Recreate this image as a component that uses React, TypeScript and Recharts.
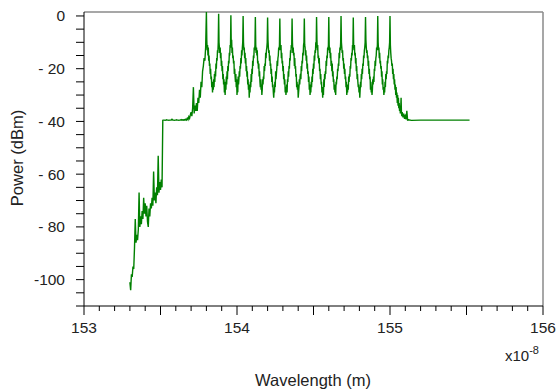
import React from 'react';
import { LineChart, Line, XAxis, YAxis, ReferenceLine } from 'recharts';

// sampled spectrum (wavelength in x1e-8 m, power in dBm)
const lowBand = [
  -101, -104, -98, -99, -95, -96, -88, -77, -86, -83, -85, -81, -67, -80, -76, -79, -74, -77, -69, -75, -71, -76,
  -72, -78, -80, -73, -76, -71, -73, -69, -72, -59, -70, -67, -71, -65, -68, -53, -67, -63, -66, -62, -65,
];

const plateau = [
  -39.6, -39.5, -39.5, -39.6, -39.5, -39.4, -39.5, -39.5, -39.6, -39.5, -39.5, -39.5, -39.2, -39.5, -39.5,
  -39.6, -39.5, -39.5, -39.4, -39.5, -39.5, -39.6, -39.5, -39.5, -39.3, -39.5, -39.4, -39.5, -39.3,
];

const ramp = [
  -39.5, -39.2, -39.5, -38.8, -39.3, -38.2, -38.8, -37.5, -36.5, -38, -35, -27, -37, -34, -36, -33, -36, -31,
  -33, -28, -31, -25, -27, -21, -19, -16, -17, -12,
];

// one row per comb line (0.08 spacing), starting at the spike
const combPeriods = [
  [1.5, -9, -13, -11, -15, -12, -17, -15, -19, -18, -22, -20, -24, -23, -27, -25, -29, -26, -28, -24, -27, -22, -25, -21, -23, -18, -20, -16, -17, -13, -14, -10],
  [0.8, -10, -12, -14, -12, -16, -14, -19, -17, -21, -19, -24, -22, -26, -24, -29, -27, -30, -25, -28, -23, -26, -21, -24, -19, -21, -17, -18, -14, -15, -11, -12],
  [0.3, -11, -9, -14, -12, -16, -15, -18, -17, -22, -20, -23, -25, -22, -27, -24, -30, -27, -29, -23, -26, -24, -21, -23, -19, -20, -16, -18, -13, -15, -12, -10],
  [0, -10, -13, -12, -16, -14, -18, -16, -21, -19, -23, -21, -26, -24, -28, -26, -31, -27, -29, -25, -27, -22, -25, -20, -22, -17, -19, -15, -16, -12, -13, -11],
  [-0.4, -11, -14, -12, -15, -13, -18, -17, -20, -18, -23, -21, -25, -27, -24, -28, -26, -30, -28, -24, -26, -23, -24, -19, -21, -18, -19, -14, -16, -13, -12, -10],
  [-0.6, -9, -12, -14, -13, -17, -15, -19, -18, -22, -20, -25, -23, -27, -26, -29, -31, -28, -29, -25, -27, -21, -24, -22, -20, -17, -19, -16, -15, -12, -13, -11],
  [-1, -11, -13, -11, -16, -14, -18, -17, -21, -19, -24, -22, -26, -24, -29, -27, -30, -28, -26, -29, -24, -25, -21, -23, -19, -20, -16, -17, -13, -14, -11, -12],
  [-1, -10, -14, -12, -15, -14, -19, -16, -20, -19, -23, -22, -27, -25, -28, -26, -31, -29, -27, -24, -26, -23, -22, -24, -19, -21, -17, -18, -14, -15, -11, -10],
  [-1, -11, -12, -15, -13, -17, -15, -20, -18, -22, -21, -25, -23, -28, -26, -30, -28, -29, -25, -27, -23, -25, -20, -22, -18, -20, -15, -17, -13, -14, -10, -12],
  [-0.4, -9, -13, -11, -16, -15, -18, -16, -21, -20, -24, -22, -26, -25, -29, -27, -31, -28, -30, -24, -27, -22, -24, -21, -22, -17, -19, -15, -16, -12, -13, -11],
  [-0.4, -11, -14, -12, -16, -14, -19, -17, -21, -18, -23, -21, -25, -24, -28, -26, -29, -27, -30, -25, -26, -23, -24, -20, -21, -18, -19, -14, -16, -12, -13, -10],
  [0, -10, -12, -14, -13, -17, -16, -20, -18, -22, -20, -24, -23, -27, -25, -30, -28, -29, -26, -28, -23, -25, -22, -23, -19, -20, -16, -17, -14, -15, -11, -12],
  [-0.6, -11, -13, -11, -15, -14, -18, -16, -21, -19, -24, -22, -25, -27, -26, -29, -27, -31, -28, -25, -27, -22, -24, -20, -22, -18, -19, -15, -16, -13, -12, -10],
  [-0.4, -9, -12, -14, -13, -16, -15, -19, -17, -22, -20, -24, -23, -28, -25, -29, -27, -30, -28, -24, -26, -23, -25, -20, -21, -17, -19, -16, -15, -12, -13, -11],
  [0, -10, -13, -12, -16, -14, -18, -17, -20, -19, -23, -21, -26, -24, -28, -27, -30, -28, -29, -25, -27, -22, -24, -21, -22, -17, -18, -15, -16, -13, -12, -10],
  [0, -11, -14, -16, -17, -19, -18, -22, -20, -24, -22, -26, -24, -28, -26, -30, -27, -31, -29, -33, -30, -34, -31, -35, -33, -36, -34, -37, -35, -31, -37, -38],
];

const tail = [-36.5, -38.5, -37, -39, -38, -39.2, -36, -39.5, -39.4];

const flatWavelengths = [155.14, 155.2, 155.3, 155.4, 155.52];
const flatPowers = [-39.6, -39.5, -39.5, -39.5, -39.5];

// uniform sampling grids: start wavelength, step, values
const segments = [
  { start: 153.3, step: 0.005, values: [...lowBand, ...plateau, ...ramp] },
  { start: 153.8, step: 0.0025, values: combPeriods.flat() },
  { start: 155.08, step: 0.005, values: tail },
];

const xTicks = [
  153, 153.1, 153.2, 153.3, 153.4, 153.5, 153.6, 153.7, 153.8, 153.9, 154, 154.1, 154.2, 154.3, 154.4, 154.5,
  154.6, 154.7, 154.8, 154.9, 155, 155.1, 155.2, 155.3, 155.4, 155.5, 155.6, 155.7, 155.8, 155.9, 156,
];
const yTicks = [
  -110, -105, -100, -95, -90, -85, -80, -75, -70, -65, -60, -55, -50, -45, -40, -35, -30, -25, -20, -15, -10, -5, 0,
];
const yLabels: Record<number, string> = { 0: '0', '-20': '- 20', '-40': '- 40', '-60': '- 60', '-80': '- 80', '-100': '-100' };

const data = [
  ...segments.flatMap((s) =>
    s.values.map((p, i) => ({ wl: Math.round((s.start + i * s.step) * 10000) / 10000, p }))
  ),
  ...flatWavelengths.map((wl, i) => ({ wl, p: flatPowers[i] })),
];

const font = '"Liberation Sans", Arial, sans-serif';

const XTick = ({ x, y, payload }: any) => {
  const v = payload.value;
  const major = Math.abs(v * 2 - Math.round(v * 2)) < 1e-6;
  const labeled = Math.abs(v - Math.round(v)) < 1e-6;
  return (
    <g>
      <line x1={x} x2={x} y1={y} y2={y + (major ? 9 : 5)} stroke="#000" />
      {labeled && (
        <text x={x} y={y + 27} textAnchor="middle" fontSize={15.5} fill="#222" fontFamily={font}>
          {Math.round(v)}
        </text>
      )}
    </g>
  );
};

const YTick = ({ x, y, payload }: any) => {
  const label = yLabels[payload.value];
  return (
    <g>
      <line x1={x - 8} x2={x} y1={y} y2={y} stroke="#000" />
      {label && (
        <text x={x - 19} y={y + 5.5} textAnchor="end" fontSize={15.5} fill="#222" fontFamily={font}>
          {label}
        </text>
      )}
    </g>
  );
};

export default function App() {
  return (
    <div style={{ position: 'absolute', left: 0, top: 0, width: 558, height: 389, background: '#fff' }}>
      <LineChart width={558} height={389} data={data} margin={{ top: 12, right: 15, bottom: 0, left: 0 }}>
        <XAxis
          dataKey="wl"
          type="number"
          domain={[153, 156]}
          ticks={xTicks}
          interval={0}
          allowDataOverflow
          height={83}
          tickSize={0}
          tickMargin={0}
          tick={<XTick />}
          axisLine={{ stroke: '#000' }}
        />
        <YAxis
          type="number"
          domain={[-110, 1.5]}
          ticks={yTicks}
          interval={0}
          allowDataOverflow
          width={84}
          tickSize={0}
          tickMargin={0}
          tick={<YTick />}
          axisLine={{ stroke: '#000' }}
        />
        <ReferenceLine y={1.5} stroke="#8a8a8a" strokeWidth={1.5} />
        <ReferenceLine x={156} stroke="#8a8a8a" strokeWidth={1.5} />
        <Line
          type="linear"
          dataKey="p"
          stroke="#008000"
          strokeWidth={1.4}
          dot={false}
          isAnimationActive={false}
        />
        <text x={17} y={158} transform="rotate(-90 17 158)" textAnchor="middle" dominantBaseline="central" fontSize={16.5} fill="#222" fontFamily={font}>
          Power (dBm)
        </text>
        <text x={313} y={386} textAnchor="middle" fontSize={16.5} fill="#222" fontFamily={font}>
          Wavelength (m)
        </text>
        <text x={505} y={361} fontSize={15} fill="#222" fontFamily={font}>
          x10<tspan dy={-7} fontSize={11}>-8</tspan>
        </text>
      </LineChart>
    </div>
  );
}
